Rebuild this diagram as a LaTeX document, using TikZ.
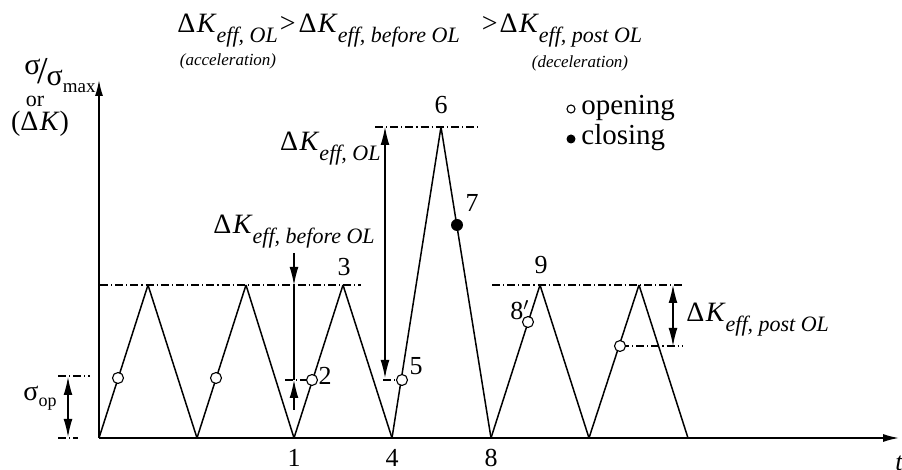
\documentclass[tikz,border=0pt]{standalone}
\usepackage{fontspec}
\setmainfont{Liberation Serif}
\usetikzlibrary{arrows.meta}

\newcommand{\dK}[1]{Δ\kern.05em\textit{K}\raisebox{-5pt}{\fontsize{11}{12}\selectfont\textit{#1}}}

\begin{document}
\begin{tikzpicture}[x=.5pt,y=-.5pt,
  curva/.style={line width=.75pt},
  guia/.style={line width=.55pt,dash pattern=on 4pt off 1.5pt on .6pt off 1.5pt},
  cota/.style={line width=.6pt,-{Latex[length=9pt,width=4.4pt]}},
  cotas/.style={line width=.6pt,{Latex[length=9pt,width=4.4pt]}-{Latex[length=9pt,width=4.4pt]}},
  eje/.style={line width=.75pt,-{Latex[length=8pt,width=4pt]}},
  abre/.style={circle,draw,fill=white,line width=.55pt,inner sep=0pt,minimum size=5.5pt},
  cierra/.style={circle,fill=black,inner sep=0pt,minimum size=6pt},
  num/.style={font=\fontsize{13}{14}\selectfont}]
  \useasboundingbox (0,0) rectangle (902,470);

  % Ejes
  \coordinate (o) at (99,438);
  \coordinate (ytop) at (99,80);
  \coordinate (xend) at (899,438);
  \draw[eje] (o) -- (ytop);
  \draw[eje] (o) -- (xend);

  % Valles y picos
  \coordinate (v0) at (99,438);
  \coordinate (v1) at (197,438);
  \coordinate (v2) at (294,438);
  \coordinate (v3) at (392,438);
  \coordinate (v4) at (491,438);
  \coordinate (v5) at (589,438);
  \coordinate (v6) at (688,438);
  \coordinate (p1) at (148,285);
  \coordinate (p2) at (246,285);
  \coordinate (p3) at (343,285);
  \coordinate (p4) at (441,127);
  \coordinate (p5) at (540,285);
  \coordinate (p6) at (639,285);

  % Ciclos
  \foreach \from/\to in {v0/p1, p1/v1, v1/p2, p2/v2, v2/p3, p3/v3, v3/p4, p4/v4, v4/p5, p5/v5, v5/p6, p6/v6}
    \draw[curva] (\from) -- (\to);

  % Lineas guia
  \coordinate (g1a) at (100,285);  \coordinate (g1b) at (361,285);
  \coordinate (g2a) at (492,285);  \coordinate (g2b) at (685,285);
  \coordinate (g3a) at (375,127);  \coordinate (g3b) at (480,127);
  \coordinate (g4a) at (58,376);   \coordinate (g4b) at (90,376);
  \coordinate (g5a) at (58,438);   \coordinate (g5b) at (78,438);
  \coordinate (g6a) at (285,380);  \coordinate (g6b) at (312,380);
  \coordinate (g7a) at (383,380);  \coordinate (g7b) at (401,380);
  \coordinate (g8a) at (621,346);  \coordinate (g8b) at (682,346);
  \foreach \from/\to in {g1a/g1b, g2a/g2b, g3a/g3b, g4a/g4b, g5a/g5b, g6a/g6b, g7a/g7b, g8a/g8b}
    \draw[guia] (\from) -- (\to);

  % Cotas
  \coordinate (s1) at (68,377);   \coordinate (s2) at (68,437);
  \coordinate (b0) at (294,253);  \coordinate (b1) at (294,285);
  \coordinate (b2) at (294,380);  \coordinate (b3) at (294,410);
  \coordinate (k1) at (385,127);  \coordinate (k2) at (385,378);
  \coordinate (q1) at (673,285);  \coordinate (q2) at (673,346);
  \draw[cotas] (s1) -- (s2);
  \draw[line width=.6pt] (b1) -- (b2);
  \draw[cota] (b0) -- (b1);
  \draw[cota] (b3) -- (b2);
  \draw[cotas] (k1) -- (k2);
  \draw[cotas] (q1) -- (q2);

  % Apertura y cierre
  \node[abre] (c1) at (118,378) {};
  \node[abre] (c2) at (216,378) {};
  \node[abre] (c3) at (312,380) {};
  \node[abre] (c4) at (402,380) {};
  \node[abre] (c5) at (528,322) {};
  \node[abre] (c6) at (620,346) {};
  \node[cierra] (c7) at (457,225) {};

  % Numeros
  \node[num] (n6) at (441,105) {6};
  \node[num] (n7) at (472,203) {7};
  \node[num] (n3) at (344,267) {3};
  \node[num] (n2) at (325,376) {2};
  \node[num] (n5) at (416,366) {5};
  \node[num] (n9) at (541,265) {9};
  \node[num] (n8p) at (520,310) {8$'$};
  \node[num] (n1) at (294,458) {1};
  \node[num] (n4) at (392,458) {4};
  \node[num] (n8) at (491,458) {8};
  \node[num,font=\fontsize{13}{14}\selectfont\itshape] (t) at (899,463) {t};

  % Leyenda
  \node[abre,minimum size=4pt] (lo) at (571,109) {};
  \node[cierra,minimum size=4.5pt] (lc) at (571,139) {};
  \node[anchor=base west,font=\fontsize{14.5}{15}\selectfont,inner sep=0pt] (lot) at (581,115) {opening};
  \node[anchor=base west,font=\fontsize{14.5}{15}\selectfont,inner sep=0pt] (lct) at (581,145) {closing};

  % Titulo
  \node[anchor=base west,font=\fontsize{14}{15}\selectfont,inner sep=0pt] (titulo) at (177,33)
    {\dK{eff, OL}\kern1pt>\kern1.5pt\dK{eff, before OL}\kern11pt>\kern1pt\dK{eff, post OL}};
  \node[font=\fontsize{8.5}{9}\selectfont\itshape] (acel) at (228,61) {(acceleration)};
  \node[font=\fontsize{8.5}{9}\selectfont\itshape] (decel) at (580,63) {(deceleration)};

  % Rotulos
  \node[anchor=base east,font=\fontsize{14}{15}\selectfont,inner sep=0pt] (lkol) at (381,151) {\dK{eff, OL}};
  \node[anchor=base west,font=\fontsize{14}{15}\selectfont,inner sep=0pt] (lkbe) at (213,234) {\dK{eff, before OL}};
  \node[anchor=base west,font=\fontsize{14}{15}\selectfont,inner sep=0pt] (lkpo) at (686,322) {\dK{eff, post OL}};
  \node[font=\fontsize{14}{15}\selectfont] (sop) at (40,398) {σ\raisebox{-.5ex}{\fontsize{9}{10}\selectfont op}};
  \node[anchor=base east,font=\fontsize{15}{16}\selectfont,inner sep=0pt] (ylab) at (96,86)
    {\raisebox{.8ex}{σ}\kern-.1em\raisebox{.2ex}{\fontsize{19}{19}\selectfont/}\kern-.05em σ\raisebox{-.5ex}{\fontsize{9.5}{10}\selectfont max}};
  \node[font=\fontsize{11}{12}\selectfont,inner sep=0pt] (yor) at (35,101) {or};
  \node[font=\fontsize{14}{15}\selectfont,inner sep=0pt] (ydk) at (40,124) {(Δ\kern.05em\textit{K})};
\end{tikzpicture}
\end{document}
